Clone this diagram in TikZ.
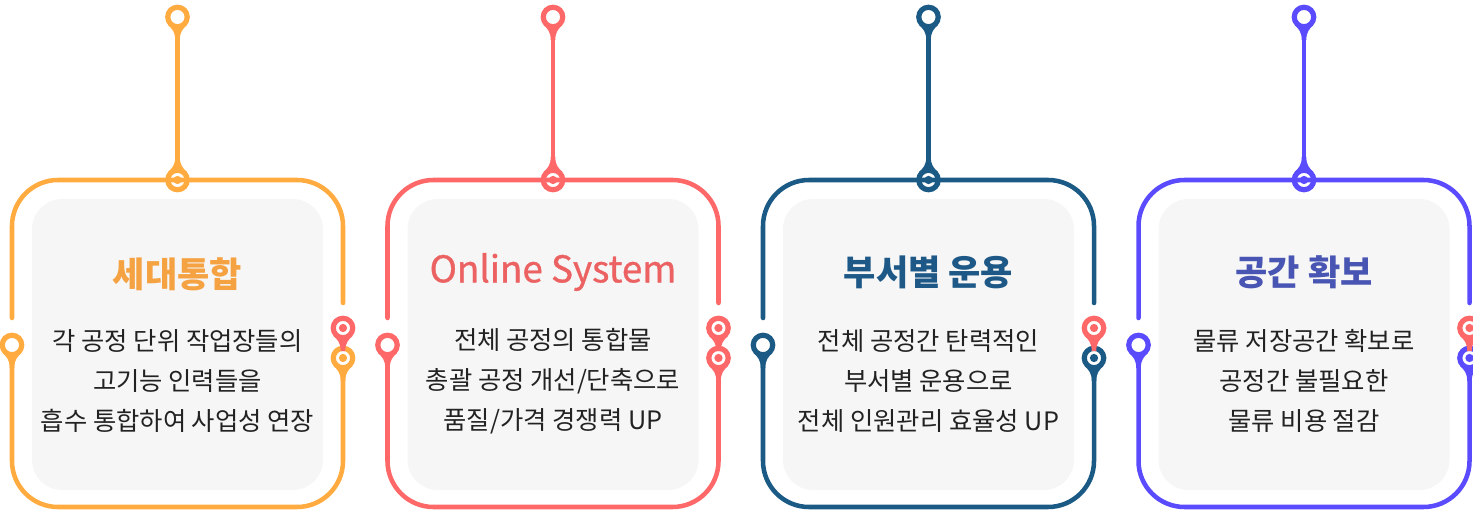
\documentclass[tikz,border=0pt]{standalone}
\usepackage{fontspec}
\setmainfont{Noto Sans CJK KR}
\newfontfamily\medfont[FakeBold=0.9]{Noto Sans CJK KR}
\usepackage{tikz}
\tikzset{every picture/.style={line width=0.75pt}}

\definecolor{cOrange}{HTML}{FFAB40}
\definecolor{cRed}{HTML}{FF6868}
\definecolor{cNavy}{HTML}{1B5A85}
\definecolor{cViolet}{HTML}{5A4BFF}
\definecolor{tOrange}{HTML}{F5A243}
\definecolor{tRed}{HTML}{EC6262}
\definecolor{tNavy}{HTML}{1D5886}
\definecolor{tViolet}{HTML}{4955B3}
\definecolor{panelbg}{HTML}{F6F6F6}
\definecolor{bodytxt}{HTML}{222222}

% teardrop joining a ring to its line
\newcommand{\pintail}[3]{\fill[#3, shift={(#1)}, rotate=#2] (7.8,9.6) .. controls (12,5.2) and (15,2.3) .. (23,2.3) -- (23,-2.3) .. controls (15,-2.3) and (12,-5.2) .. (7.8,-9.6) -- cycle;}

\begin{document}
\begin{tikzpicture}[x=0.75pt,y=0.75pt,yscale=-1,xscale=1,
  frame/.style={draw=#1, line width=3.4pt, line cap=round, rounded corners=34.5pt},
  ring/.style={circle, draw=#1, fill=white, line width=3.9pt, minimum size=14.6pt, inner sep=0pt, outer sep=1.7pt},
  target/.style={ring=#1, path picture={\fill[#1] (path picture bounding box.center) circle[radius=3.1pt];}},
  card/.style={fill=panelbg, rounded corners=22.5pt},
  title/.style={font=\fontsize{26.3}{30}\selectfont\bfseries, text=#1},
  body/.style={font=\fontsize{19}{30}\selectfont, text=bodytxt, align=center}]
\path[use as bounding box] (0,0) rectangle (1473,513);
\clip (0,0) rectangle (1473,513);

%Shape: Rounded Rect (cards)
\fill[card] (32,199) rectangle (323,490);
\fill[card] (407.5,199) rectangle (698.5,490);
\fill[card] (783,199) rectangle (1074,490);
\fill[card] (1158.5,199) rectangle (1449.5,490);

%%% panel 1 : 세대통합
\node[ring=cOrange] (gen-top) at (177.5,17) {};
\node[target=cOrange] (gen-hub) at (177.5,180) {};
\node[ring=cOrange] (gen-left) at (12,345) {};
\node[target=cRed] (gen-next) at (343,328) {};
\node[target=cOrange] (gen-right) at (343,358) {};
\coordinate (gen-lend) at (12,318);
\coordinate (gen-rend) at (343,303);
\draw[frame=cOrange] (gen-top) -- (gen-hub);
\draw[frame=cOrange] (gen-lend) -- (12,180) -- (343,180) -- (gen-rend);
\draw[frame=cOrange] (gen-left) -- (12,507) -- (343,507) -- (gen-right);
\pintail{gen-top}{90}{cOrange}
\pintail{gen-hub}{-90}{cOrange}
\pintail{gen-left}{90}{cOrange}
\pintail{gen-next}{90}{cRed}
\pintail{gen-right}{90}{cOrange}
% Text Node
\node[title=tOrange] (gen-title) at (177.5,274) {세대통합};
\node[body] (gen-text) at (177.5,381) {각 공정 단위 작업장들의\\고기능 인력들을\\흡수 통합하여 사업성 연장};

%%% panel 2 : Online System
\node[ring=cRed] (onl-top) at (553,17) {};
\node[target=cRed] (onl-hub) at (553,180) {};
\node[ring=cRed] (onl-left) at (387.5,345) {};
\node[target=cRed] (onl-next) at (718.5,328) {};
\node[target=cRed] (onl-right) at (718.5,358) {};
\coordinate (onl-lend) at (387.5,318);
\coordinate (onl-rend) at (718.5,303);
\draw[frame=cRed] (onl-top) -- (onl-hub);
\draw[frame=cRed] (onl-lend) -- (387.5,180) -- (718.5,180) -- (onl-rend);
\draw[frame=cRed] (onl-left) -- (387.5,507) -- (718.5,507) -- (onl-right);
\pintail{onl-top}{90}{cRed}
\pintail{onl-hub}{-90}{cRed}
\pintail{onl-left}{90}{cRed}
\pintail{onl-next}{90}{cRed}
\pintail{onl-right}{90}{cRed}
% Text Node
\node[title=tRed, font=\fontsize{27.6}{30}\medfont] (onl-title) at (553,272) {Online System};
\node[body] (onl-text) at (553,381) {전체 공정의 통합물\\총괄 공정 개선/단축으로\\품질/가격 경쟁력 UP};

%%% panel 3 : 부서별 운용
\node[ring=cNavy] (dept-top) at (928.5,17) {};
\node[target=cNavy] (dept-hub) at (928.5,180) {};
\node[ring=cNavy] (dept-left) at (763,345) {};
\node[target=cRed] (dept-next) at (1094,328) {};
\node[target=cNavy] (dept-right) at (1094,358) {};
\coordinate (dept-lend) at (763,318);
\coordinate (dept-rend) at (1094,303);
\draw[frame=cNavy] (dept-top) -- (dept-hub);
\draw[frame=cNavy] (dept-lend) -- (763,180) -- (1094,180) -- (dept-rend);
\draw[frame=cNavy] (dept-left) -- (763,507) -- (1094,507) -- (dept-right);
\pintail{dept-top}{90}{cNavy}
\pintail{dept-hub}{-90}{cNavy}
\pintail{dept-left}{90}{cNavy}
\pintail{dept-next}{90}{cRed}
\pintail{dept-right}{90}{cNavy}
% Text Node
\node[title=tNavy] (dept-title) at (928.5,272) {부서별 운용};
\node[body] (dept-text) at (928.5,381) {전체 공정간 탄력적인\\부서별 운용으로\\전체 인원관리 효율성 UP};

%%% panel 4 : 공간 확보
\node[ring=cViolet] (spc-top) at (1304,17) {};
\node[target=cViolet] (spc-hub) at (1304,180) {};
\node[ring=cViolet] (spc-left) at (1138.5,345) {};
\node[target=cRed] (spc-next) at (1469.5,328) {};
\node[target=cViolet] (spc-right) at (1469.5,358) {};
\coordinate (spc-lend) at (1138.5,318);
\coordinate (spc-rend) at (1469.5,303);
\draw[frame=cViolet] (spc-top) -- (spc-hub);
\draw[frame=cViolet] (spc-lend) -- (1138.5,180) -- (1469.5,180) -- (spc-rend);
\draw[frame=cViolet] (spc-left) -- (1138.5,507) -- (1469.5,507) -- (spc-right);
\pintail{spc-top}{90}{cViolet}
\pintail{spc-hub}{-90}{cViolet}
\pintail{spc-left}{90}{cViolet}
\pintail{spc-next}{90}{cRed}
\pintail{spc-right}{90}{cViolet}
% Text Node
\node[title=tViolet] (spc-title) at (1304,272) {공간 확보};
\node[body] (spc-text) at (1304,381) {물류 저장공간 확보로\\공정간 불필요한\\물류 비용 절감};
\end{tikzpicture}
\end{document}
